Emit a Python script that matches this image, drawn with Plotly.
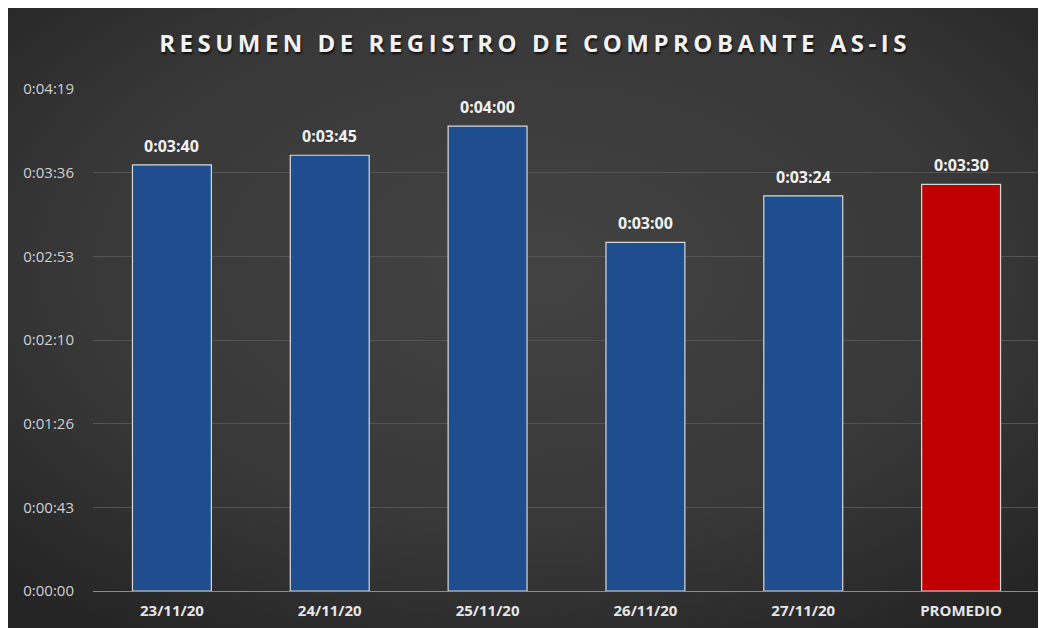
import base64
import plotly.graph_objects as go

categories = ["23/11/20", "24/11/20", "25/11/20", "26/11/20", "27/11/20", "PROMEDIO"]
seconds = [220, 225, 240, 180, 204, 210]
labels = ["0:03:40", "0:03:45", "0:04:00", "0:03:00", "0:03:24", "0:03:30"]
tick_vals = [0, 43.2, 86.4, 129.6, 172.8, 216.0, 259.2]
tick_text = ["0:00:00", "0:00:43", "0:01:26", "0:02:10", "0:02:53", "0:03:36", "0:04:19"]
bar_colors = ["#1F4E8F", "#1F4E8F", "#1F4E8F", "#1F4E8F", "#1F4E8F", "#C00000"]
title_text = "RESUMEN DE REGISTRO DE COMPROBANTE AS-IS"

W, H = 1038, 620
ml, mr, mt, mb = 85, 6, 81, 37
pw, ph = W - ml - mr, H - mt - mb

svg = (
    '<svg xmlns="http://www.w3.org/2000/svg" width="1038" height="620" preserveAspectRatio="none">'
    '<defs><radialGradient id="g" cx="50%" cy="42%" r="72%">'
    '<stop offset="0%" stop-color="#434343"/>'
    '<stop offset="60%" stop-color="#383838"/>'
    '<stop offset="100%" stop-color="#242424"/>'
    '</radialGradient></defs>'
    '<rect width="1038" height="620" fill="url(#g)"/></svg>'
)
src = "data:image/svg+xml;base64," + base64.b64encode(svg.encode()).decode()

fig = go.Figure()
fig.add_trace(go.Bar(
    x=categories, y=seconds,
    marker=dict(color=bar_colors, line=dict(color="#D9D9D9", width=1.2)),
    width=0.5, hoverinfo="skip",
))

for c, v, t in zip(categories, seconds, labels):
    fig.add_annotation(x=c, y=v, text=t, showarrow=False, yshift=19,
                       font=dict(family="Open Sans", size=16, color="#F2F2F2", weight="bold"))

x0 = -ml / pw
x1 = (W - ml) / pw
y1 = (H - mb) / ph
y0 = -mb / ph
fig.add_layout_image(dict(source=src, xref="paper", yref="paper", x=x0, y=y1,
                          sizex=x1 - x0, sizey=y1 - y0, sizing="stretch", layer="below"))

fig.update_layout(
    width=W, height=H,
    margin=dict(l=ml, r=mr, t=mt, b=mb),
    paper_bgcolor="#333333",
    plot_bgcolor="rgba(0,0,0,0)",
    showlegend=False,
    title=dict(text='<span style="letter-spacing:4.5px">' + title_text + '</span>',
               x=(527 - ml) / pw, xref="paper",
               xanchor="center", y=1 - 36 / H, yanchor="middle",
               font=dict(family="Open Sans", size=24, color="#F2F2F2", weight="bold",
                         shadow="1px 2px 2px #111111")),
    xaxis=dict(showgrid=False, showline=True, linecolor="#8C8C8C", linewidth=1,
               tickfont=dict(family="Open Sans", size=15, color="#E6E6E6", weight="bold"),
               ticks="", ticklabelstandoff=6, fixedrange=True),
    yaxis=dict(range=[0, 259.2], tickvals=tick_vals, ticktext=tick_text,
               showgrid=True, gridcolor="#545454", gridwidth=1, zeroline=False,
               tickfont=dict(family="Open Sans", size=15, color="#D0D0D0"),
               ticks="", ticklabelstandoff=18, fixedrange=True),
    bargap=0.5,
)

fig.write_html("out.html")
